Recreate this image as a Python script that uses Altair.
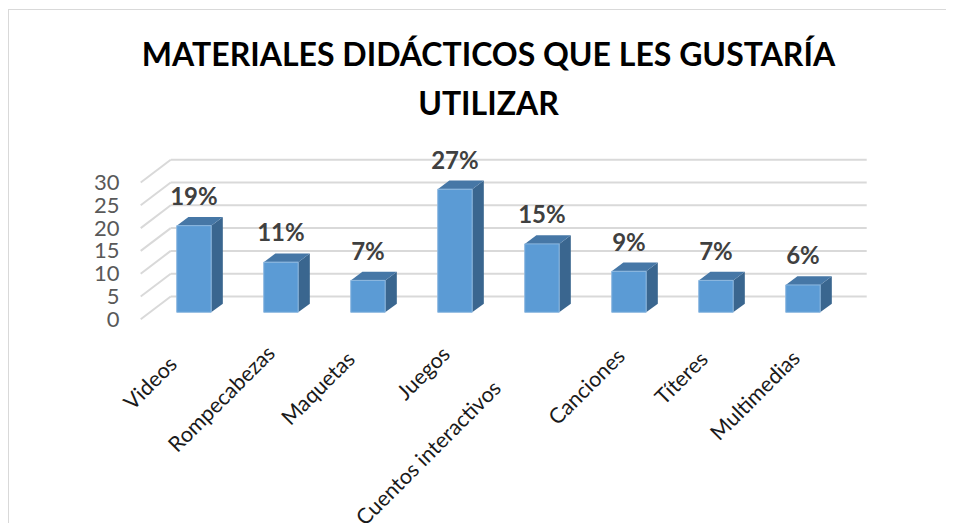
import altair as alt
import pandas as pd

title_lines = ["MATERIALES DIDÁCTICOS QUE LES GUSTARÍA", "UTILIZAR"]
categories = ["Videos", "Rompecabezas", "Maquetas", "Juegos", "Cuentos interactivos", "Canciones", "Títeres", "Multimedias"]
values = [19, 11, 7, 27, 15, 9, 7, 6]
y_ticks = [0, 5, 10, 15, 20, 25, 30]

# Layout of the fake 3D box, in scale units
WALL_DX, WALL_DY = 0.345, 5.0
BAR_L, BAR_R = 0.414, 0.81
BAR_BASE = 1.535
BAR_DX, BAR_DY = 0.134, 1.9
# Irregular placement of the rotated category labels (px, relative to tick centre / below floor)
LABEL_DX = [-10, 1, -6, 2, -34, 3, -1, 4]
LABEL_DY = [42, 31, 37, 32, 66, 34, 37, 36]
PX_X, PX_Y = 87.0, 4.56

X = alt.Scale(domain=[0, 8], range=[132.7, 828.7], nice=False, zero=False)
Y = alt.Scale(domain=[0, 30], range=[191.3, 54.5], nice=False, zero=False)
Y_AXIS = alt.Axis(
    values=y_ticks, domain=False, ticks=False, grid=False, offset=-111, labelPadding=0,
    labelFont="Lato", labelFontSize=22, labelColor="#595959", title=None)


def qx(f):
    return alt.X(f, type="quantitative", scale=X, axis=None)


def qy(f):
    return alt.Y(f, type="quantitative", scale=Y, axis=Y_AXIS)


GRID = "#d9d9d9"
back = pd.DataFrame({"v": [t + WALL_DY for t in y_ticks], "x0": 0 + WALL_DX, "x1": 8 + WALL_DX})
diag = pd.DataFrame({"v": y_ticks, "v2": [t + WALL_DY for t in y_ticks], "x0": 0.0, "x1": WALL_DX})

bars = pd.DataFrame({"c": categories, "v": values})
bars["i"] = range(len(categories))
bars["l"] = bars.i + BAR_L
bars["r"] = bars.i + BAR_R
bars["top"] = bars.v + BAR_BASE
bars["base"] = BAR_BASE
bars["lab"] = bars.v.astype(str) + "%"
bars["laby"] = bars.top + BAR_DY + 19 / PX_Y
bars["labx"] = (bars.l + bars.r) / 2

side = pd.concat([
    pd.DataFrame({"c": categories, "x": bars.r, "y": bars.top, "y2": BAR_BASE}),
    pd.DataFrame({"c": categories, "x": bars.r + BAR_DX, "y": bars.top + BAR_DY, "y2": BAR_BASE + BAR_DY}),
])
lid = pd.concat([
    pd.DataFrame({"c": categories, "y": bars.top, "x": bars.l, "x2": bars.r}),
    pd.DataFrame({"c": categories, "y": bars.top + BAR_DY, "x": bars.l + BAR_DX, "x2": bars.r + BAR_DX}),
])
names = pd.DataFrame({
    "c": categories,
    "x": [i + 0.5 + d / PX_X for i, d in enumerate(LABEL_DX)],
    "y": [-d / PX_Y for d in LABEL_DY],
})

back_lines = alt.Chart(back).mark_rule(color=GRID, strokeWidth=2).encode(
    x=qx("x0"), x2="x1:Q", y=qy("v"))
diag_lines = alt.Chart(diag).mark_rule(color=GRID, strokeWidth=2).encode(
    x=qx("x0"), x2="x1:Q", y=qy("v"), y2="v2:Q")

front = alt.Chart(bars).mark_rect(color="#5b9bd5", stroke="#8db8e0", strokeWidth=1).encode(
    x=qx("l"), x2="r:Q", y=qy("top"), y2="base:Q")
side_faces = alt.Chart(side).mark_area(color="#3a668f", orient="vertical").encode(
    x=qx("x"), y=qy("y"), y2="y2:Q", detail="c:N")
lids = alt.Chart(lid).mark_area(color="#4677a6", orient="horizontal").encode(
    y=qy("y"), x=qx("x"), x2="x2:Q", detail="c:N")

value_labels = alt.Chart(bars).mark_text(
    font="Lato", fontWeight="bold", fontSize=24, color="#404040", baseline="middle"
).encode(x=qx("labx"), y=qy("laby"), text="lab:N")

cat_labels = alt.Chart(names).mark_text(
    font="Lato", fontSize=21.5, color="#1a1a1a", angle=315, align="right", baseline="middle"
).encode(x=qx("x"), y=qy("y"), text="c:N")

border_top = alt.Chart(pd.DataFrame({"a": [0]})).mark_rule(color=GRID, strokeWidth=1).encode(
    x=alt.value(0), x2=alt.value(938), y=alt.value(-118.5))
border_left = alt.Chart(pd.DataFrame({"a": [0]})).mark_rule(color=GRID, strokeWidth=1).encode(
    x=alt.value(0.5), y=alt.value(-118.5), y2=alt.value(395))

chart = alt.layer(
    back_lines, diag_lines,
    side_faces, lids, front, value_labels, cat_labels,
    border_top, border_left,
).resolve_scale(x="shared", y="shared").properties(
    width=938, height=395,
    autosize=alt.AutoSizeParams(type="none"),
    padding={"left": 0, "top": 120, "right": 0, "bottom": 0},
    background="white",
    title=alt.TitleParams(
        text=title_lines, font="Lato", fontWeight="bold", fontSize=32, color="#000000",
        anchor="middle", lineHeight=49, dx=11.5, dy=119, offset=6, frame="group",
    ),
).configure_view(stroke=None)

chart.save("out.html", embed_options={"renderer": "svg", "actions": False})
